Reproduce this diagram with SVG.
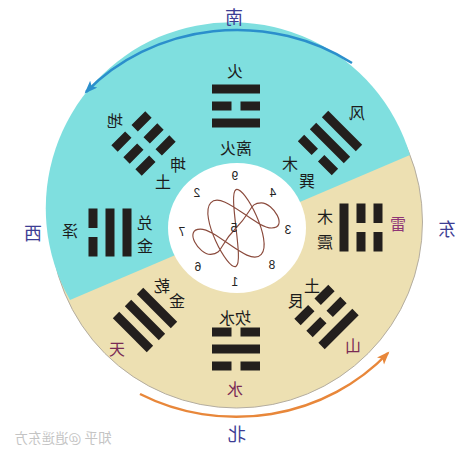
<svg xmlns="http://www.w3.org/2000/svg" width="474" height="455" viewBox="0 0 474 455">
<style>
.t{font-family:"Noto Sans CJK SC","Noto Sans",sans-serif;font-size:16px;text-anchor:middle;dominant-baseline:central;fill:#1c1c1c}
.d{font-size:18px;fill:#3d3d94}
.r{fill:#7a2b55}
.n{font-family:"Liberation Sans",sans-serif;font-size:12px;fill:#222}
.w{font-size:13.5px;fill:#c4c4c4}
.bar{fill:#231f1d}
.arc{fill:none;stroke-width:2.5}
</style>
<defs>
<rect id="s" x="-24" y="-4.5" width="48" height="9"/>
<path id="b" d="M-24,-4.5h19.5v9h-19.5z M4.5,-4.5h19.5v9h-19.5z"/>
<marker id="ab" markerUnits="userSpaceOnUse" markerWidth="16" markerHeight="12" refX="11" refY="5" orient="auto"><path d="M0,0 L13,5 L0,10 L3,5 Z" fill="#2b8fcc"/></marker>
<marker id="ao" markerUnits="userSpaceOnUse" markerWidth="16" markerHeight="12" refX="11" refY="5" orient="auto"><path d="M0,0 L13,5 L0,10 L3,5 Z" fill="#e8873a"/></marker>
</defs>

<g id="disc">
<circle cx="236.5" cy="222" r="186" fill="#ede0b2" stroke="#b4ada0" stroke-width="1"/>
<path d="M70,300 A186,186 0 1,1 410,155 Z" fill="#7fdfdf"/>
<ellipse cx="237" cy="228" rx="69" ry="65" fill="#ffffff"/>
</g>

<g id="connectors">
<path class="arc" stroke="#2b8fcc" d="M352,63 A205,192 0 0,0 86,92" marker-end="url(#ab)"/>
<path class="arc" stroke="#e8873a" d="M140,394 A205,195 0 0,0 388,353" marker-end="url(#ao)"/>
</g>

<g id="li" class="bar" transform="translate(236,106)"><use href="#s" y="-17"/><use href="#b"/><use href="#s" y="17"/></g>
<g id="xun" class="bar" transform="translate(330,143) rotate(45)"><use href="#s" y="-17"/><use href="#s"/><use href="#b" y="17"/></g>
<g id="zhen" class="bar" transform="translate(361,227.5) rotate(90)"><use href="#b" y="-17"/><use href="#b"/><use href="#s" y="17"/></g>
<g id="gen" class="bar" transform="translate(326.5,317) rotate(135)"><use href="#s" y="-17"/><use href="#b"/><use href="#b" y="17"/></g>
<g id="kan" class="bar" transform="translate(236,349) rotate(180)"><use href="#b" y="-17"/><use href="#s"/><use href="#b" y="17"/></g>
<g id="qian" class="bar" transform="translate(145,320) rotate(225)"><use href="#s" y="-17"/><use href="#s"/><use href="#s" y="17"/></g>
<g id="dui" class="bar" transform="translate(110,232.5) rotate(270)"><use href="#b" y="-17"/><use href="#s"/><use href="#s" y="17"/></g>
<g id="kun" class="bar" transform="translate(143.5,143.5) rotate(315)"><use href="#b" y="-17"/><use href="#b"/><use href="#b" y="17"/></g>

<g id="labels">
<text class="t" transform="translate(235,70) scale(-1,1)">火</text>
<text class="t" transform="translate(236,147) scale(-1,1)">离火</text>
<text class="t" transform="translate(357,112) scale(-1,1)">风</text>
<text class="t" transform="translate(290,163) scale(-1,1)">木</text>
<text class="t" transform="translate(307,180) scale(-1,1)">巽</text>
<text class="t r" style="fill:#8e3576" transform="translate(398,223) scale(-1,1)">雷</text>
<text class="t" transform="translate(325,216) scale(-1,1)">木</text>
<text class="t" transform="translate(325,241) scale(-1,1)">震</text>
<text class="t r" transform="translate(353,345) scale(-1,1)">山</text>
<text class="t" transform="translate(312,285) scale(-1,1)">土</text>
<text class="t" transform="translate(296,300) scale(-1,1)">艮</text>
<text class="t r" transform="translate(235,388) scale(-1,1)">水</text>
<text class="t" transform="translate(235,317) scale(-1,1)">坎水</text>
<text class="t r" transform="translate(117,348) scale(-1,1)">天</text>
<text class="t" transform="translate(162,285) scale(-1,1)">乾</text>
<text class="t" transform="translate(177,300) scale(-1,1)">金</text>
<text class="t" transform="translate(70,230) scale(-1,1)">泽</text>
<text class="t" transform="translate(145,222) scale(-1,1)">兑</text>
<text class="t" transform="translate(145,245) scale(-1,1)">金</text>
<text class="t" transform="translate(115,120) scale(-1,1)">地</text>
<text class="t" transform="translate(178,164) scale(-1,1)">坤</text>
<text class="t" transform="translate(163,181) scale(-1,1)">土</text>
<text class="t d" transform="translate(234,16) scale(-1,1)">南</text>
<text class="t d" transform="translate(237,433) scale(-1,1)">北</text>
<text class="t d" transform="translate(447,228) scale(-1,1)">东</text>
<text class="t d" transform="translate(33,232) scale(-1,1)">西</text>
<text class="t w" transform="translate(63,437) scale(-1,1)">知乎 @逍遥东方</text>
</g>

<g id="luoshu">
<path transform="translate(236,228) scale(1.15,1.2)" fill="none" stroke="#8a4a3c" stroke-width="1" d="M0,32 C-7.33,35.67 -32.33,-10.33 -22,-21 C-11.67,-31.67 16.33,0 31,0 C45.67,0 32.33,-21 22,-21 C11.67,-21 14.67,-14.33 0,0 C-14.67,14.33 -11.67,21.67 -22,22 C-32.33,22.33 -45.67,1 -31,1 C-16.33,1 11.67,33 22,22 C32.33,11 7.33,-35.33 0,-32 C-7.33,-28.67 7.33,28.33 0,32 Z"/>
<text class="t n" transform="translate(235,176) scale(-1,1)">9</text>
<text class="t n" transform="translate(273,193) scale(-1,1)">4</text>
<text class="t n" transform="translate(288,230) scale(-1,1)">3</text>
<text class="t n" transform="translate(272,265) scale(-1,1)">8</text>
<text class="t n" transform="translate(235,282) scale(-1,1)">1</text>
<text class="t n" transform="translate(198,267) scale(-1,1)">6</text>
<text class="t n" transform="translate(182,232) scale(-1,1)">7</text>
<text class="t n" transform="translate(197,193) scale(-1,1)">2</text>
<text class="t n" transform="translate(234,228) scale(-1,1)">5</text>
</g>
</svg>
